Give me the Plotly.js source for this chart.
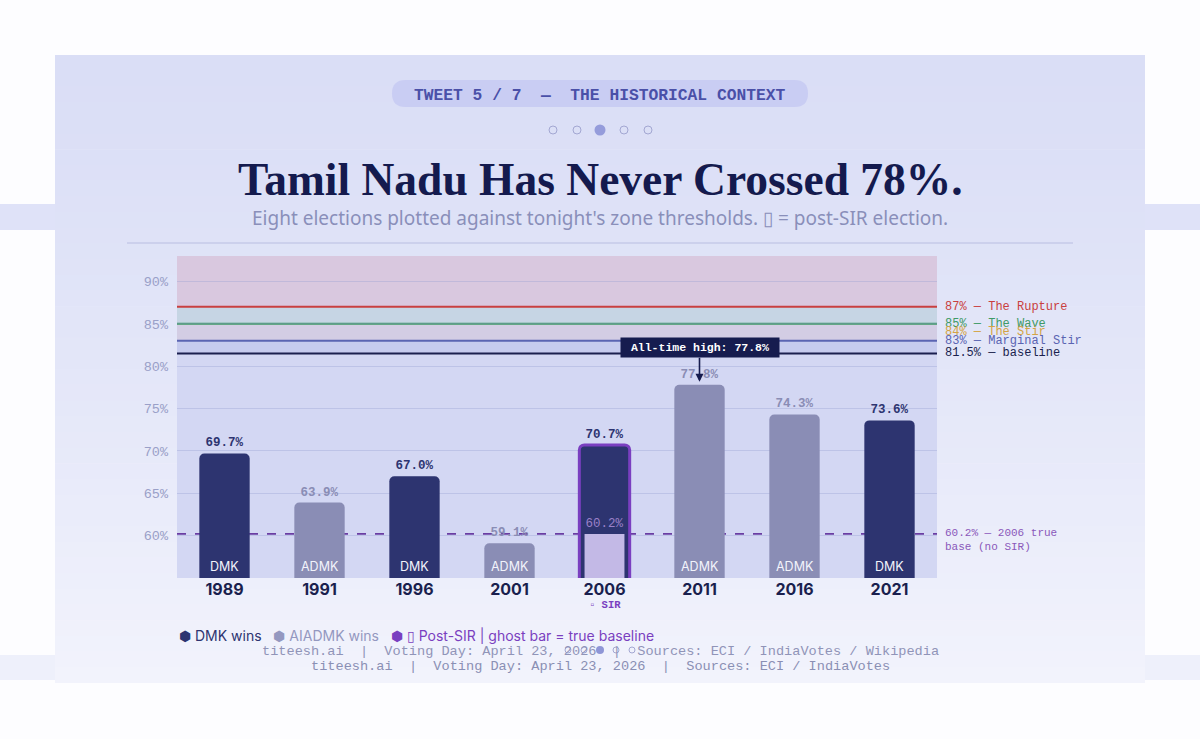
<!DOCTYPE html>
<html>
<head>
<meta charset="utf-8">
<script src="https://cdn.plot.ly/plotly-3.0.1.min.js"></script>
<style>html,body{margin:0;padding:0;background:#fdfdff;}#chart{width:1200px;height:739px;}</style>
</head>
<body>
<div id="chart"></div>
<script>
// ---- data ----
const years = ['1989','1991','1996','2001','2006','2011','2016','2021'];
const turnout = [69.7, 63.9, 67.0, 59.1, 70.7, 77.8, 74.3, 73.6];
const winners = ['DMK','ADMK','DMK','ADMK','DMK','ADMK','ADMK','DMK'];
const sirYear = ['2006'];
const sirBaseline = [60.2];
const thresholdValues = [87, 85, 84, 83, 81.5];
const thresholdLabels = ['87% — The Rupture','85% — The Wave','84% — The Stir','83% — Marginal Stir','81.5% — baseline'];
const yTicks = [60, 65, 70, 75, 80, 85, 90];
const yTickText = ['60%', '65%', '70%', '75%', '80%', '85%', '90%'];
const allTimeHigh = 77.8;
const allTimeHighYear = '2011';

// ---- styling ----
const NAVY = '#2d3470', GRAY = '#8a8db5', PURPLE = '#7a3fc0', DARK = '#161c4f';
const thrColors = ['#c93f40', '#3f9a66', '#d4a444', '#5a64b2', '#1a1f4e'];
const thrLine = [true, true, false, true, true];
const MONO = 'Liberation Mono, DejaVu Sans Mono, monospace';
const SANS = 'Inter, Noto Sans, sans-serif';

const L = 177, R = 937, T = 256, B = 578, W = 1200, H = 739;
const xp = px => (px - L) / (R - L);
const yp = py => (B - py) / (B - T);
const idx = y => years.indexOf(y);

const shapes = [];
// page bands
shapes.push({type:'rect', xref:'paper', yref:'paper', x0:xp(0), x1:xp(W), y0:yp(230), y1:yp(204), fillcolor:'#dfe2f8', line:{width:0}, layer:'below'});
shapes.push({type:'rect', xref:'paper', yref:'paper', x0:xp(0), x1:xp(W), y0:yp(680), y1:yp(655), fillcolor:'#eef0fb', line:{width:0}, layer:'below'});
// card with vertical gradient (stacked strips)
const c0 = [218, 222, 246], c1 = [242, 243, 252];
const NSTRIP = 40, cardTop = 55, cardBot = 683;
for (let i = 0; i < NSTRIP; i++) {
  const t = i / (NSTRIP - 1);
  const c = c0.map((v, k) => Math.round(v + (c1[k] - v) * Math.pow(t, 1.3)));
  const a = cardTop + (cardBot - cardTop) * i / NSTRIP, b = cardTop + (cardBot - cardTop) * (i + 1) / NSTRIP + 0.6;
  shapes.push({type:'rect', xref:'paper', yref:'paper', x0:xp(55), x1:xp(1145), y0:yp(Math.min(b, cardBot)), y1:yp(a), fillcolor:`rgb(${c[0]},${c[1]},${c[2]})`, line:{width:0}, layer:'below'});
}
// header pill
function roundRect(x0, y0, x1, y1, r) {
  const P = (x, y) => `${xp(x)},${yp(y)}`;
  return `M${P(x0 + r, y0)} L${P(x1 - r, y0)} Q${P(x1, y0)} ${P(x1, y0 + r)} L${P(x1, y1 - r)} Q${P(x1, y1)} ${P(x1 - r, y1)} L${P(x0 + r, y1)} Q${P(x0, y1)} ${P(x0, y1 - r)} L${P(x0, y0 + r)} Q${P(x0, y0)} ${P(x0 + r, y0)} Z`;
}
shapes.push({type:'path', xref:'paper', yref:'paper', path:roundRect(392, 80, 808, 107, 13.5), fillcolor:'#c9cdf3', line:{width:0}, layer:'below'});
// pagination dots
function dot(cx, cy, r, filled, col) {
  return {type:'circle', xref:'paper', yref:'paper', x0:xp(cx - r), x1:xp(cx + r), y0:yp(cy + r), y1:yp(cy - r),
    fillcolor: filled ? col : 'rgba(0,0,0,0)', line:{width: filled ? 0 : 1, color:'#a3a7d2'}, layer:'below'};
}
[553, 577, 600, 624, 648].forEach((cx, i) => shapes.push(dot(cx, 130, i === 2 ? 5.5 : 4, i === 2, '#959cdb')));
// rule
shapes.push({type:'line', xref:'paper', yref:'paper', x0:xp(127), x1:xp(1073), y0:yp(243), y1:yp(243), line:{color:'#c6cae8', width:1.5}, layer:'below'});
// zones
const zones = [[55, 81.5, '#d3d7f3'], [81.5, 83, '#c6cbee'], [83, 85, '#d3cde4'], [85, 87, '#c6d5e4'], [87, 93, '#d9c8df']];
zones.forEach(z => shapes.push({type:'rect', xref:'paper', yref:'y', x0:0, x1:1, y0:z[0], y1:z[1], fillcolor:z[2], line:{width:0}, layer:'below'}));
// dashed true-baseline line
shapes.push({type:'line', xref:'paper', yref:'y', x0:0, x1:1, y0:sirBaseline[0], y1:sirBaseline[0], line:{color:'#6a3da3', width:1.8, dash:'dash'}, layer:'below'});
// threshold lines
thresholdValues.forEach((v, i) => { if (thrLine[i]) shapes.push({type:'line', xref:'paper', yref:'y', x0:0, x1:1, y0:v, y1:v, line:{color:thrColors[i], width:2}, layer:'below'}); });
// small dots overlapping footer
[568, 584, 600, 616, 632].forEach((cx, i) => shapes.push(dot(cx, 650, i === 2 ? 4 : 3, i === 2, '#8f96d6')));

const annotations = [];
const pa = (px, py, text, font, extra) => Object.assign({xref:'paper', yref:'paper', x:xp(px), y:yp(py), yanchor:'middle', text, showarrow:false, font}, extra || {});
annotations.push(pa(600, 96, '<b>TWEET 5 / 7  —  THE HISTORICAL CONTEXT</b>', {family:MONO, size:16.3, color:'#4a50a8'}));
annotations.push(pa(600, 179, '<b>Tamil Nadu Has Never Crossed 78%.</b>', {family:'Liberation Serif, serif', size:45.5, color:'#141a4e'}));
annotations.push(pa(600, 218, "Eight elections plotted against tonight's zone thresholds. ▯ = post-SIR election.", {family:'Noto Sans, sans-serif', size:19, color:'#8a8fba'}));
thresholdValues.forEach((v, i) => annotations.push({xref:'paper', yref:'y', x:xp(943), y:v, xanchor:'left', yanchor:'middle', text:thresholdLabels[i], showarrow:false, font:{family:MONO, size:12, color:thrColors[i]}}));
annotations.push({xref:'paper', yref:'y', x:xp(943), y:sirBaseline[0], yanchor:'top', yshift:9, xanchor:'left', align:'left', text:'60.2% — 2006 true<br>base (no SIR)', showarrow:false, font:{family:MONO, size:11, color:'#8a58bb'}});
years.forEach((yr, i) => { if (!sirYear.includes(yr)) annotations.push({xref:'x', yref:'y', x:i, y:55, yanchor:'bottom', yshift:2, text:winners[i], showarrow:false, font:{family:SANS, size:12.5, color:'#f2f3fb'}}); });
annotations.push({xref:'x', yref:'y', x:idx(allTimeHighYear), y:allTimeHigh, ax:0, ay:-37, text:'<b> All-time high: 77.8% </b>', showarrow:true, arrowhead:2, arrowsize:1, arrowwidth:1.6, arrowcolor:DARK, standoff:3, bgcolor:DARK, borderpad:3, font:{family:MONO, size:11.5, color:'#ffffff'}});
annotations.push({xref:'x', yref:'paper', x:idx(sirYear[0]), y:yp(605), yanchor:'middle', text:'<b>▫ SIR</b>', showarrow:false, font:{family:MONO, size:10.5, color:PURPLE}});
annotations.push(pa(177, 635,
  `<span style="color:${NAVY}">⬢ DMK wins</span>   <span style="color:#9498c0">⬢ AIADMK wins</span>   <span style="color:${PURPLE}">⬢ ▯ Post-SIR | ghost bar = true baseline</span>`,
  {family:SANS, size:14, color:NAVY}, {xanchor:'left'}));
annotations.push(pa(600, 651, 'titeesh.ai  |  Voting Day: April 23, 2026  |  Sources: ECI / IndiaVotes / Wikipedia', {family:MONO, size:13.6, color:'#9094b8'}));
annotations.push(pa(600, 666, 'titeesh.ai  |  Voting Day: April 23, 2026  |  Sources: ECI / IndiaVotes', {family:MONO, size:13.6, color:'#8a8fb4'}));

const barColors = winners.map(w => w === 'DMK' ? NAVY : GRAY);
const textColors = winners.map(w => w === 'DMK' ? NAVY : GRAY);
const lineW = years.map(y => sirYear.includes(y) ? 3 : 0);

const traces = [
  {type:'bar', x:years, y:turnout, width:0.53, marker:{color:barColors, cornerradius:5, line:{color:PURPLE, width:lineW}},
   texttemplate:'%{y:.1f}%', textposition:'outside', cliponaxis:false,
   textfont:{family:MONO, size:12.5, color:textColors, weight:'bold'}, hoverinfo:'skip'},
  {type:'bar', x:sirYear, y:sirBaseline, width:0.42, marker:{color:'#c3b9e6', cornerradius:4, line:{width:0}},
   texttemplate:'%{y:.1f}%', textposition:'outside', cliponaxis:false,
   textfont:{family:MONO, size:12.5, color:'#9a80c8'}, hoverinfo:'skip'}
];

const layout = {
  width:W, height:H, margin:{l:L, r:W - R, t:T, b:H - B}, showlegend:false,
  paper_bgcolor:'#fdfdff', plot_bgcolor:'rgba(0,0,0,0)', barmode:'overlay',
  xaxis:{type:'category', categoryorder:'array', categoryarray:years, range:[-0.5, years.length - 0.5], showgrid:false, zeroline:false, showline:false, ticks:'',
    tickfont:{family:SANS, size:16, color:'#1a1f4e', weight:'bold'}},
  yaxis:{range:[55, 93], tickmode:'array', tickvals:yTicks, ticktext:yTickText, showgrid:true, gridcolor:'rgba(150,158,210,0.35)', zeroline:false, showline:false, ticks:'',
    ticklabelstandoff:8, tickfont:{family:MONO, size:13.5, color:'#9aa0c8'}},
  shapes, annotations
};
Plotly.newPlot('chart', traces, layout, {staticPlot:true, displayModeBar:false});
</script>
</body>
</html>
